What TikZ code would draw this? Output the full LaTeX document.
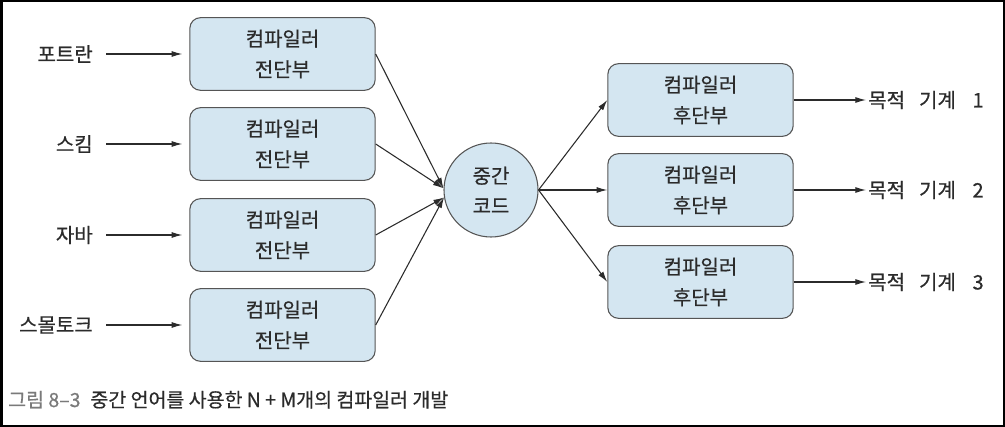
\documentclass[tikz,border=0pt]{standalone}
\usepackage{fontspec}
\setmainfont{Noto Sans CJK KR}[FakeBold=0.6]
\usetikzlibrary{arrows.meta}

\definecolor{boxfill}{HTML}{D4E6F1}
\definecolor{boxline}{HTML}{555555}
\definecolor{inkcol}{HTML}{2B2B2B}
\definecolor{capgray}{HTML}{7A7A7A}

\begin{document}
\begin{tikzpicture}[x=0.75pt,y=-0.75pt,
    >={Latex[length=8pt,width=4.5pt]},
    unitbox/.style={draw=boxline,fill=boxfill,line width=0.8pt,rounded corners=8pt,minimum width=139pt,minimum height=54.5pt,align=center,text=inkcol,font=\fontsize{15}{23}\selectfont},
    midcode/.style={circle,draw=boxline,fill=boxfill,line width=0.8pt,minimum size=70.5pt,inner sep=0pt,align=center,text=inkcol,font=\fontsize{15}{22.5}\selectfont},
    langtxt/.style={inner sep=0pt,text=inkcol,font=\fontsize{15}{18}\selectfont},
    flow/.style={draw=inkcol,line width=0.8pt,->}]
    \useasboundingbox (0,0) rectangle (1005,427);
    \draw[line width=1.5pt] (1.5,1.5) rectangle (1003.5,425.5);

    % front ends
    \node[unitbox] (fe1) at (282.5,54) {컴파일러\\전단부};
    \node[unitbox] (fe2) at (282.5,144) {컴파일러\\전단부};
    \node[unitbox] (fe3) at (282.5,235) {컴파일러\\전단부};
    \node[unitbox] (fe4) at (282.5,325) {컴파일러\\전단부};

    \node[langtxt,anchor=east] (fortran) at (93,54) {포트란};
    \node[langtxt,anchor=east] (scheme) at (93,144) {스킴};
    \node[langtxt,anchor=east] (java) at (93,235) {자바};
    \node[langtxt,anchor=east] (smalltalk) at (93,325) {스몰토크};

    \draw[flow,shorten <=9.75pt,shorten >=5.25pt] (fortran.east) -- (fe1.west);
    \draw[flow,shorten <=9.75pt,shorten >=5.25pt] (scheme.east) -- (fe2.west);
    \draw[flow,shorten <=9.75pt,shorten >=5.25pt] (java.east) -- (fe3.west);
    \draw[flow,shorten <=9.75pt,shorten >=5.25pt] (smalltalk.east) -- (fe4.west);

    % intermediate code
    \node[midcode] (ir) at (491,190) {중간\\코드};
    \draw[flow] (fe1.east) -- (ir.178);
    \draw[flow] (fe2.east) -- (ir.178);
    \draw[flow] (fe3.east) -- (ir.189);
    \draw[flow] (fe4.east) -- (ir.189);

    % back ends
    \node[unitbox] (be1) at (700.5,100) {컴파일러\\후단부};
    \node[unitbox] (be2) at (700.5,190) {컴파일러\\후단부};
    \node[unitbox] (be3) at (700.5,282) {컴파일러\\후단부};
    \draw[flow] (ir.east) -- (be1.west);
    \draw[flow] (ir.east) -- (be2.west);
    \draw[flow] (ir.east) -- (be3.west);

    \node[langtxt,anchor=west] (mach1) at (868,100) {목적\hspace{10.5pt}기계\hspace{12.5pt}1};
    \node[langtxt,anchor=west] (mach2) at (868,190) {목적\hspace{10.5pt}기계\hspace{12.5pt}2};
    \node[langtxt,anchor=west] (mach3) at (868,282) {목적\hspace{10.5pt}기계\hspace{12.5pt}3};
    \draw[flow,shorten >=1.5pt] (be1.east) -- (mach1.west);
    \draw[flow,shorten >=1.5pt] (be2.east) -- (mach2.west);
    \draw[flow,shorten >=1.5pt] (be3.east) -- (mach3.west);

    % caption
    \node[inner sep=0pt,anchor=base west,text=inkcol,font=\fontsize{14.6}{17}\selectfont] (caption) at (8,407)
        {{\color{capgray}그림 8–3}\hspace{7.5pt}중간 언어를 사용한 N + M개의 컴파일러 개발};
\end{tikzpicture}
\end{document}
